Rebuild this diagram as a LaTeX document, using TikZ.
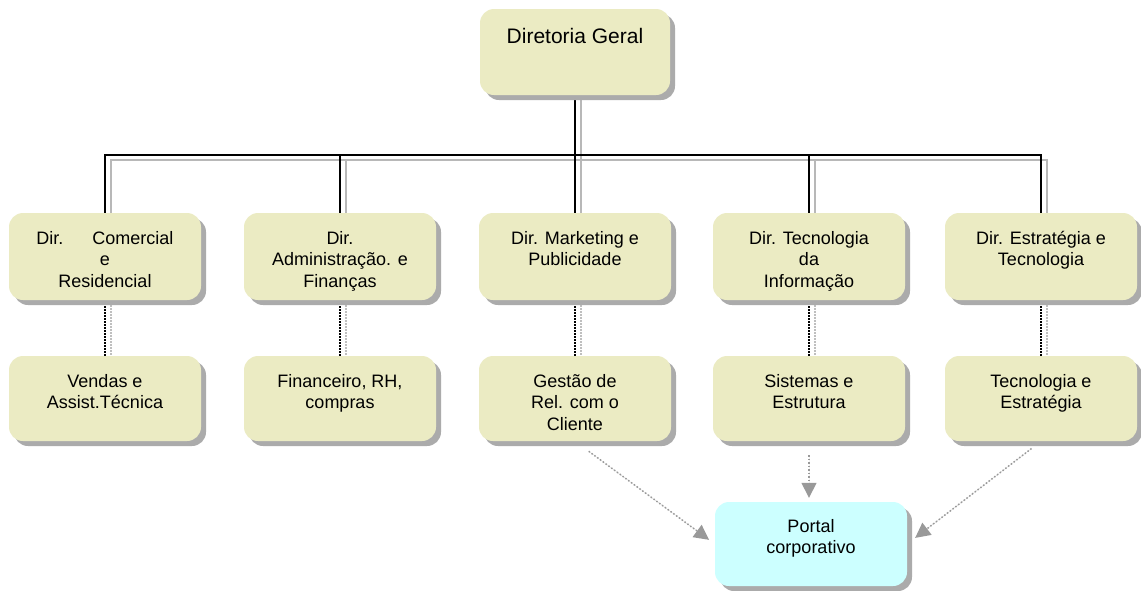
\documentclass[tikz,border=0pt]{standalone}
\usepackage{fontspec}
\setmainfont{Liberation Sans}
\usetikzlibrary{shadows,arrows.meta,backgrounds}
\definecolor{boxfill}{RGB}{235,235,195}
\definecolor{portalfill}{RGB}{204,255,255}
\newcommand\btext[4]{\parbox[c][#2][t]{#1}{\centering\vspace*{#3}\strut #4\par}}
\tikzset{
  orgbox/.style={rounded corners=14pt, fill=boxfill, inner sep=0pt,
    drop shadow={shadow xshift=5pt, shadow yshift=-5pt, fill=black!33, opacity=1},
    font=\fontsize{18}{21.5}\selectfont},
  portalbox/.style={orgbox, fill=portalfill},
  conn/.style={draw=black, line width=1.5pt},
  connshadow/.style={draw=black!28, line width=1.3pt},
  dotconn/.style={draw=black, line width=1.5pt, dash pattern=on 1.5pt off 1.5pt},
  dotshadow/.style={draw=black!25, line width=1.3pt, dash pattern=on 1.5pt off 1.5pt},
  arr/.style={draw=black!40, line width=1.5pt, dash pattern=on 1.5pt off 2pt,
    -{Triangle[length=15pt,width=15pt]}, fill=black!40}
}
\begin{document}
\begin{tikzpicture}[x=1pt, y=-1pt]
\useasboundingbox (0,0) rectangle (1141,590);

% top
\node[orgbox, font=\fontsize{21}{25}\selectfont] (top) at (575,52)
  {\btext{190pt}{86pt}{16.5pt}{Diretoria Geral}};

% row 1
\node[orgbox] (m1) at (105,256.5) {\btext{192pt}{87pt}{16pt}{\makebox[137pt]{Dir.\hfill Comercial}\\e\\Residencial}};
\node[orgbox] (m2) at (340,256.5) {\btext{192pt}{87pt}{16pt}{Dir.\\Administração. e\\Finanças}};
\node[orgbox] (m3) at (575,256.5) {\btext{192pt}{87pt}{16pt}{Dir. Marketing e\\Publicidade}};
\node[orgbox] (m4) at (809,256.5) {\btext{192pt}{87pt}{16pt}{Dir. Tecnologia\\da\\Informação}};
\node[orgbox] (m5) at (1041,256.5) {\btext{192pt}{87pt}{16pt}{Dir. Estratégia e\\Tecnologia}};

% row 2
\node[orgbox] (s1) at (105,398.5) {\btext{192pt}{85pt}{16pt}{Vendas e\\Assist.Técnica}};
\node[orgbox] (s2) at (340,398.5) {\btext{192pt}{85pt}{16pt}{Financeiro, RH,\\compras}};
\node[orgbox] (s3) at (575,398.5) {\btext{192pt}{85pt}{16pt}{Gestão de\\Rel. com o\\Cliente}};
\node[orgbox] (s4) at (809,398.5) {\btext{192pt}{85pt}{16pt}{Sistemas e\\Estrutura}};
\node[orgbox] (s5) at (1041,398.5) {\btext{192pt}{85pt}{16pt}{Tecnologia e\\Estratégia}};

% portal
\node[portalbox] (portal) at (811,544) {\btext{192pt}{84pt}{15pt}{Portal\\corporativo}};

\coordinate (h) at (0,155);

\begin{pgfonlayer}{background}
  \begin{scope}[transform canvas={xshift=6pt, yshift=-5pt}]
    \draw[connshadow] (top.south) -- (m3.north);
    \draw[connshadow] (m1.north) -- (m1.north |- h) -- (m5.north |- h) -- (m5.north);
    \draw[connshadow] (m2.north |- h) -- (m2.north);
    \draw[connshadow] (m4.north |- h) -- (m4.north);
    \foreach \i in {1,...,5} { \draw[dotshadow] (m\i.south) -- (s\i.north); }
  \end{scope}
  \draw[conn] (top.south) -- (m3.north);
  \draw[conn] (m1.north) -- (m1.north |- h) -- (m5.north |- h) -- (m5.north);
  \draw[conn] (m2.north |- h) -- (m2.north);
  \draw[conn] (m4.north |- h) -- (m4.north);
  \foreach \i in {1,...,5} { \draw[dotconn] (m\i.south) -- (s\i.north); }
\end{pgfonlayer}

% arrows to portal
\draw[arr, shorten <=17pt, shorten >=7pt] (s3.south) -- (portal.west);
\draw[arr, shorten <=14pt, shorten >=4pt] (s4.south) -- (s4.south |- portal.north);
\draw[arr, shorten <=12pt, shorten >=10pt] (s5.south) -- (portal.east);
\end{tikzpicture}
\end{document}
